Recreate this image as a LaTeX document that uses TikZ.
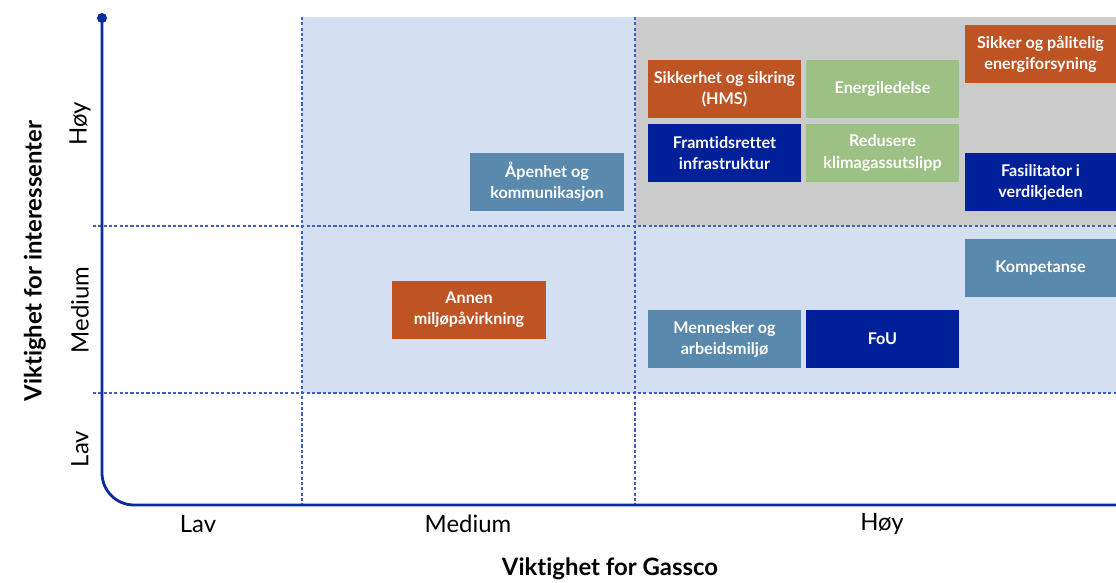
\documentclass[tikz,border=0pt]{standalone}
\usepackage{fontspec}
\setmainfont{Lato}[Ligatures=NoCommon]
\definecolor{axisblue}{HTML}{0A2C9E}
\definecolor{gridblue}{HTML}{3F5FC4}
\definecolor{zonelight}{HTML}{D4E0F1}
\definecolor{zonegray}{HTML}{CBCBCB}
\definecolor{boxorange}{HTML}{BE5324}
\definecolor{boxgreen}{HTML}{9DC184}
\definecolor{boxsteel}{HTML}{5A89AE}
\definecolor{boxdark}{HTML}{00209A}
\begin{document}
\begin{tikzpicture}[x=0.025cm,y=-0.025cm,
    topic/.style={shape=rectangle,inner sep=0pt,minimum width=3.825cm,minimum height=1.45cm,
        align=center,text=white,font=\bfseries\fontsize{11.5}{15}\selectfont},
    wide/.style={topic,minimum width=3.775cm},
    grid/.style={gridblue,line width=0.9pt,dash pattern=on 2.2pt off 1.6pt},
    tick/.style={font=\fontsize{17}{20}\selectfont},
    title/.style={font=\bfseries\fontsize{17}{20}\selectfont}]
            \useasboundingbox (0,0) rectangle (1116,583);

            % zones
            \fill[zonelight] (302,17) rectangle (1116,393);
            \fill[zonegray] (635,17) rectangle (1116,226);

            % grid
            \draw[grid] (302,17) -- (302,505);
            \draw[grid] (635,17) -- (635,505);
            \draw[grid] (93,226) -- (1116,226);
            \draw[grid] (93,393) -- (1116,393);

            % axes
            \coordinate (top) at (102,18);
            \coordinate (corner) at (102,505);
            \coordinate (right) at (1116,505);
            \draw[axisblue,line width=2pt,rounded corners=0.8cm] (top) -- (corner) -- (right);
            \fill[axisblue] (top) circle (5);

            % topics
            \node[topic,fill=boxsteel] (apen) at (547,182) {Åpenhet og\\kommunikasjon};
            \node[topic,fill=boxorange] (annen) at (469,310) {Annen\\miljøpåvirkning};
            \node[topic,fill=boxorange] (hms) at (724.5,89) {Sikkerhet og sikring\\(HMS)};
            \node[topic,fill=boxgreen] (energi) at (882.5,89) {Energiledelse};
            \node[wide,fill=boxorange] (sikker) at (1040.5,54) {Sikker og pålitelig\\energiforsyning};
            \node[topic,fill=boxdark] (framtid) at (724.5,153) {Framtidsrettet\\infrastruktur};
            \node[topic,fill=boxgreen] (redusere) at (882.5,153) {Redusere\\klimagassutslipp};
            \node[wide,fill=boxdark] (fasilitator) at (1040.5,182) {Fasilitator i\\verdikjeden};
            \node[wide,fill=boxsteel] (kompetanse) at (1040.5,268) {Kompetanse};
            \node[topic,fill=boxsteel] (mennesker) at (724.5,339) {Mennesker og\\arbeidsmiljø};
            \node[topic,fill=boxdark] (fou) at (882.5,339) {FoU};

            % tick labels
            \node[tick,rotate=90] (yhoy) at (80,124) {Høy};
            \node[tick,rotate=90] (ymedium) at (80,310) {Medium};
            \node[tick,rotate=90] (ylav) at (80,449) {Lav};
            \node[tick] (xlav) at (198,524) {Lav};
            \node[tick] (xmedium) at (468,524) {Medium};
            \node[tick] (xhoy) at (882,524) {Høy};

            % axis titles
            \node[title] (xtitle) at (610,569) {Viktighet for Gassco};
            \node[title,rotate=90] (ytitle) at (35,261) {Viktighet for interessenter};
        \end{tikzpicture}
\end{document}
